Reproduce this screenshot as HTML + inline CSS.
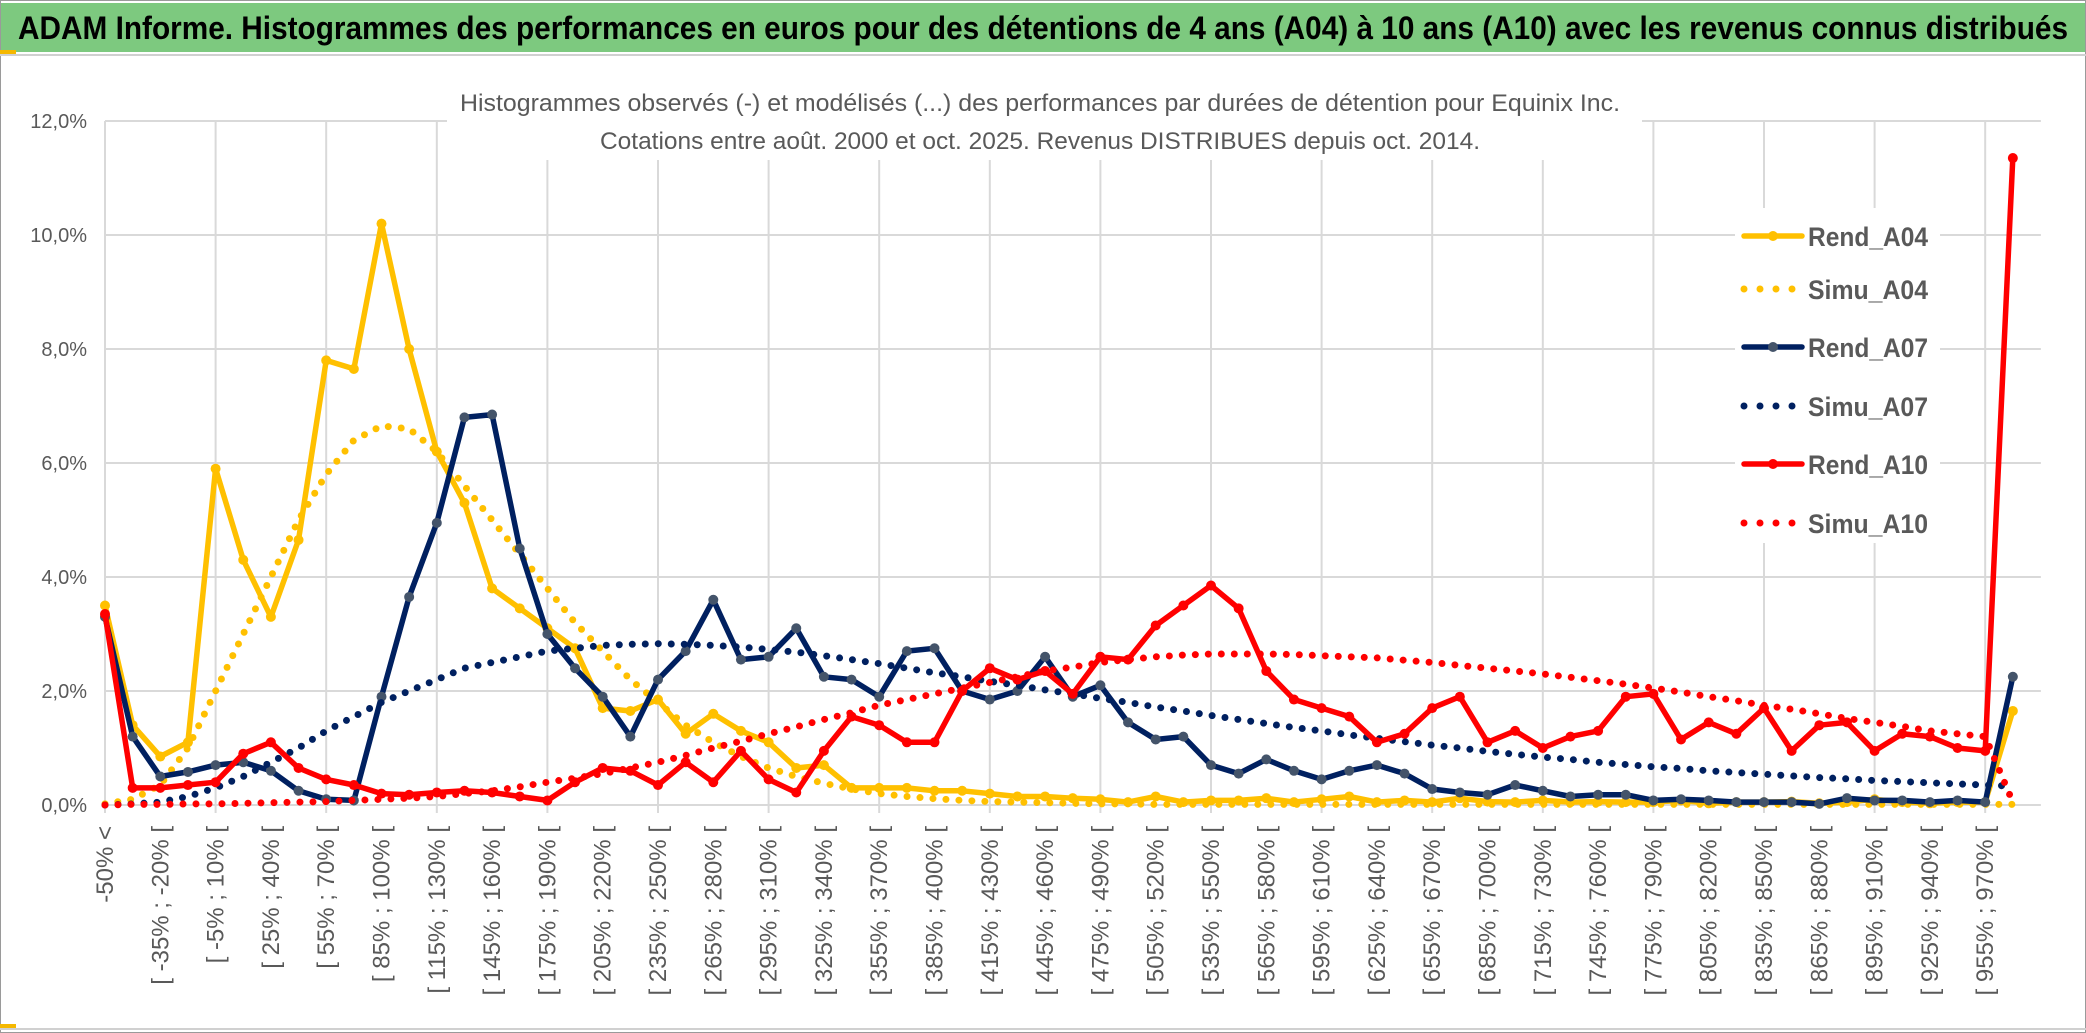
<!DOCTYPE html>
<html><head><meta charset="utf-8"><style>
html,body{margin:0;padding:0;background:#fff;}
svg{display:block;font-family:"Liberation Sans",sans-serif;}
</style></head><body>
<svg id="chart" width="2086" height="1033" viewBox="0 0 2086 1033" xmlns="http://www.w3.org/2000/svg">
<rect x="0.5" y="0.5" width="2085" height="1032" fill="#fff" stroke="#9a9a9a"/>
<rect x="1" y="3" width="2084" height="49" fill="#7dc97f"/>
<line x1="0" y1="55" x2="2086" y2="55" stroke="#d0d0d0" stroke-width="2"/>
<rect x="0" y="50" width="16" height="4" fill="#f5b800"/>
<rect x="0" y="1024" width="16" height="5" fill="#f5b800"/>
<line x1="0" y1="1029" x2="2086" y2="1029" stroke="#d0d0d0" stroke-width="2"/>
<text x="1043" y="39" text-anchor="middle" font-size="32" font-weight="bold" fill="#000" textLength="2050" lengthAdjust="spacingAndGlyphs">ADAM Informe. Histogrammes des performances en euros pour des détentions de 4 ans (A04) à 10 ans (A10) avec les revenus connus distribués</text>
<g id="grid"></g>
<rect x="447" y="82" width="1195" height="78" fill="#fff"/>
<text x="1040" y="111" text-anchor="middle" font-size="24" fill="#595959" textLength="1160" lengthAdjust="spacingAndGlyphs">Histogrammes observés (-) et modélisés (...) des performances par durées de détention pour Equinix Inc.</text>
<text x="1040" y="149" text-anchor="middle" font-size="24" fill="#595959" textLength="880" lengthAdjust="spacingAndGlyphs">Cotations entre août. 2000 et oct. 2025. Revenus DISTRIBUES depuis oct. 2014.</text>
<g id="yaxis"></g>
<g id="xaxis"></g>
<rect x="1735" y="208" width="205" height="335" fill="#fff"/>
<g id="series"></g>
<g id="legend"></g>
</svg>
<script>
const seriesNames = ["Rend_A04","Simu_A04","Rend_A07","Simu_A07","Rend_A10","Simu_A10"];
const yTicks = [0,2,4,6,8,10,12];
const yTickLabels = ["0,0%","2,0%","4,0%","6,0%","8,0%","10,0%","12,0%"];
const rendA04 = [3.5,1.4,0.85,1.1,5.9,4.3,3.3,4.65,7.8,7.65,
 10.2,8.0,6.2,5.3,3.8,3.45,3.1,2.75,1.7,1.65,
 1.85,1.25,1.6,1.3,1.1,0.65,0.7,0.3,0.3,0.3,
 0.25,0.25,0.2,0.15,0.15,0.12,0.1,0.05,0.15,0.05,
 0.08,0.08,0.12,0.05,0.1,0.15,0.05,0.08,0.05,0.12,
 0.06,0.05,0.08,0.05,0.06,0.05,0.05,0.08,0.03,0.05,
 0.05,0.06,0.03,0.05,0.1,0.05,0.03,0.05,0.05,1.65];
const simuA04 = [0.02,0.1,0.35,1.0,2.0,3.0,4.0,5.0,5.8,6.4,
 6.65,6.6,6.2,5.6,5.0,4.4,3.8,3.2,2.7,2.2,
 1.8,1.4,1.1,0.85,0.65,0.5,0.38,0.28,0.2,0.15,
 0.11,0.08,0.06,0.05,0.04,0.03,0.02,0.02,0.01,0.01,
 0.01,0.01,0.01,0.01,0.01,0.01,0.01,0.01,0.01,0.01,
 0.01,0.01,0.01,0.01,0.01,0.01,0.01,0.01,0.01,0.01,
 0.01,0.01,0.01,0.01,0.01,0.01,0.01,0.01,0.01,0.01];
const rendA07 = [3.3,1.2,0.5,0.58,0.7,0.75,0.6,0.25,0.1,0.08,
 1.9,3.65,4.95,6.8,6.85,4.5,3.0,2.4,1.9,1.2,
 2.2,2.7,3.6,2.55,2.6,3.1,2.25,2.2,1.9,2.7,
 2.75,2.0,1.85,2.0,2.6,1.9,2.1,1.45,1.15,1.2,
 0.7,0.55,0.8,0.6,0.45,0.6,0.7,0.55,0.28,0.22,
 0.18,0.35,0.25,0.15,0.18,0.18,0.08,0.1,0.08,0.05,
 0.05,0.05,0.02,0.12,0.08,0.08,0.05,0.08,0.05,2.25];
const simuA07 = [0,0.02,0.05,0.15,0.3,0.5,0.75,1.0,1.3,1.55,
 1.8,2.0,2.2,2.4,2.5,2.6,2.7,2.75,2.8,2.82,
 2.83,2.82,2.8,2.77,2.73,2.68,2.62,2.55,2.48,2.4,
 2.32,2.25,2.17,2.1,2.02,1.95,1.87,1.8,1.72,1.65,
 1.57,1.5,1.43,1.36,1.3,1.23,1.17,1.11,1.05,1.0,
 0.94,0.89,0.84,0.8,0.75,0.71,0.67,0.64,0.6,0.57,
 0.54,0.51,0.48,0.46,0.43,0.41,0.39,0.37,0.35,0.33];
const rendA10 = [3.35,0.3,0.3,0.35,0.4,0.9,1.1,0.65,0.45,0.35,
 0.2,0.18,0.22,0.25,0.22,0.15,0.08,0.4,0.65,0.6,
 0.35,0.75,0.4,0.95,0.45,0.22,0.95,1.55,1.4,1.1,
 1.1,2.0,2.4,2.2,2.35,1.95,2.6,2.55,3.15,3.5,
 3.85,3.45,2.35,1.85,1.7,1.55,1.1,1.25,1.7,1.9,
 1.1,1.3,1.0,1.2,1.3,1.9,1.95,1.15,1.45,1.25,
 1.7,0.95,1.4,1.45,0.95,1.25,1.2,1.0,0.95,11.35];
const simuA10 = [0,0.01,0.01,0.02,0.02,0.03,0.04,0.05,0.06,0.08,
 0.1,0.12,0.15,0.2,0.25,0.32,0.4,0.47,0.55,0.65,
 0.75,0.87,1.0,1.12,1.25,1.37,1.5,1.62,1.75,1.85,
 1.95,2.05,2.15,2.25,2.35,2.42,2.5,2.55,2.6,2.63,
 2.65,2.65,2.65,2.64,2.62,2.6,2.58,2.54,2.5,2.45,
 2.4,2.35,2.3,2.24,2.18,2.12,2.05,1.98,1.9,1.83,
 1.75,1.68,1.6,1.52,1.45,1.38,1.3,1.25,1.2,0.05];
const categories = ["-50% <"];
for (let k = 1; k < 70; k++) { categories.push("[ " + (-50 + 15*(k-1)) + "% ; " + (-35 + 15*(k-1)) + "% ["); }

const NS = "http://www.w3.org/2000/svg";
const X0 = 105, STEP = 27.65, Y0 = 805, PPU = 57;
function xs(i){ return X0 + STEP * i; }
function ys(v){ return Y0 - PPU * v; }
function mk(tag, attrs, parent){ const e = document.createElementNS(NS, tag); for (const k in attrs) e.setAttribute(k, attrs[k]); parent.appendChild(e); return e; }

const grid = document.getElementById("grid");
yTicks.forEach(function(t){
  const l = mk("line", {x1: X0, x2: xs(69)+28, y1: ys(t), y2: ys(t), stroke: "#d9d9d9", "stroke-width": 2}, grid);
  
  
});
for (let i = 0; i < categories.length; i += 4) {
  const l = mk("line", {x1: xs(i), x2: xs(i), y1: ys(12), y2: ys(0) + 8, stroke: "#d9d9d9", "stroke-width": 2}, grid);
  
  
}
const yaxis = document.getElementById("yaxis");
yTicks.forEach(function(t, k){
  const tx = mk("text", {x: 87, y: ys(t) + 7, "text-anchor": "end", "font-size": 20, fill: "#595959"}, yaxis);
  tx.textContent = yTickLabels[k];
  
  
});
const xaxis = document.getElementById("xaxis");
for (let i = 0; i < categories.length; i += 2) {
  const tx = mk("text", {transform: "translate(" + (xs(i) + 8) + ",826) rotate(-90)", "text-anchor": "end", "font-size": 24, fill: "#595959"}, xaxis);
  tx.textContent = categories[i];
  
  
}

const seriesLayer = document.getElementById("series");
function pts(arr){ return arr.map(function(v, i){ return xs(i).toFixed(1) + "," + ys(v).toFixed(1); }).join(" "); }
function drawDotted(arr, color, name){
  const p = mk("polyline", {points: pts(arr), fill: "none", stroke: color, "stroke-width": 7, "stroke-linecap": "round", "stroke-dasharray": "0 13"}, seriesLayer);
  
  
}
function drawSolid(arr, color, mfill, name){
  const g = mk("g", {}, seriesLayer);
  
  
  mk("polyline", {points: pts(arr), fill: "none", stroke: color, "stroke-width": 5.5, "stroke-linejoin": "round"}, g);
  arr.forEach(function(v, i){
    const c = mk("circle", {cx: xs(i), cy: ys(v), r: 5, fill: mfill}, g);
    
    
  });
}
drawSolid(rendA04, "#ffc000", "#ffc000", "rend-a04-line");
drawDotted(simuA04, "#ffc000", "simu-a04-line");
drawSolid(rendA07, "#002060", "#44546a", "rend-a07-line");
drawDotted(simuA07, "#002060", "simu-a07-line");
drawSolid(rendA10, "#ff0000", "#ff0000", "rend-a10-line");
drawDotted(simuA10, "#ff0000", "simu-a10-line");

const legend = document.getElementById("legend");
const legColors = ["#ffc000","#ffc000","#002060","#002060","#ff0000","#ff0000"];
const legMark = ["#ffc000",null,"#44546a",null,"#ff0000",null];
const legY = [236,289,347,406,464,523];
seriesNames.forEach(function(n, k){
  const g = mk("g", {}, legend);
  
  
  const y = legY[k];
  if (legMark[k]) {
    mk("line", {x1: 1744, x2: 1802, y1: y, y2: y, stroke: legColors[k], "stroke-width": 5.5, "stroke-linecap": "round"}, g);
    mk("circle", {cx: 1773, cy: y, r: 5, fill: legMark[k]}, g);
  } else {
    mk("line", {x1: 1744, x2: 1802, y1: y, y2: y, stroke: legColors[k], "stroke-width": 7, "stroke-linecap": "round", "stroke-dasharray": "0 16"}, g);
  }
  const t = mk("text", {x: 1808, y: y + 10, "font-size": 27, "font-weight": "bold", fill: "#595959", textLength: 120, lengthAdjust: "spacingAndGlyphs"}, g);
  t.textContent = n;
}); 
</script>
</body></html>
